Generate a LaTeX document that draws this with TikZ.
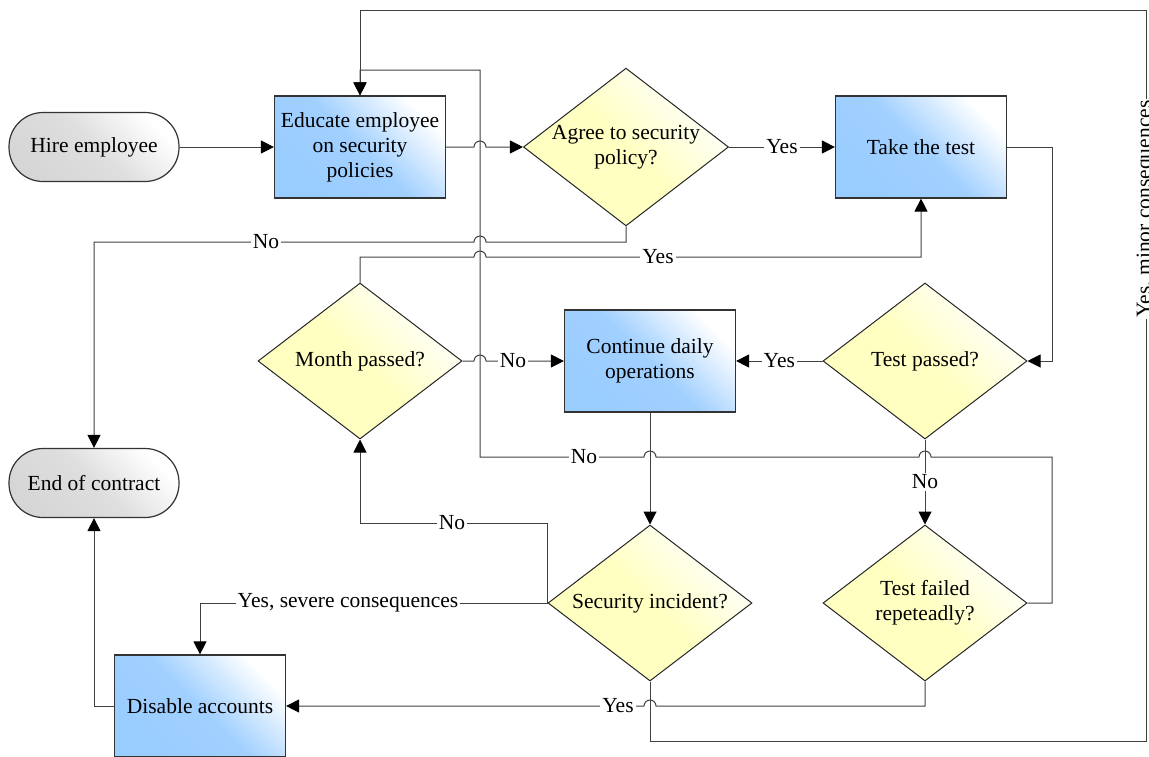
\documentclass[tikz,border=0pt]{standalone}
\usepackage{fontspec}
\setmainfont{Liberation Serif}
\usetikzlibrary{shapes.geometric,arrows.meta}

\definecolor{procblue}{HTML}{99CCFF}
\definecolor{decyellow}{HTML}{FFFFC2}
\definecolor{termgray}{HTML}{D6D6D6}
\definecolor{linegray}{HTML}{404040}

\begin{document}
\begin{tikzpicture}[x=0.5pt, y=-0.5pt,
    every node/.style={font=\fontsize{10.75}{12.5}\selectfont},
    process/.style={rectangle, draw=black!80, line width=0.6pt,
        minimum width=85.5pt, minimum height=51pt, inner sep=2pt, align=center,
        top color=white, bottom color=procblue, middle color=procblue!92!white, shading angle=-45},
    decision/.style={diamond, draw=black!85, line width=0.5pt, aspect=1.3,
        minimum width=102pt, minimum height=78pt, inner sep=0pt, align=center,
        top color=white, bottom color=decyellow, middle color=decyellow, shading angle=-45},
    terminal/.style={rectangle, rounded corners=17pt, draw=black!80, line width=0.6pt,
        minimum width=85pt, minimum height=34.5pt, align=center,
        top color=white, bottom color=termgray, middle color=termgray!80!white, shading angle=-45},
    conn/.style={draw=linegray, line width=0.5pt,
        -{Triangle[length=6.5pt, width=6.5pt, color=black]}},
    lbl/.style={fill=white, inner sep=1pt},
    jumpr/.style={insert path={arc[start angle=180, end angle=360, radius=6]}},
    jumpl/.style={insert path={arc[start angle=0, end angle=-180, radius=6]}}]

    \useasboundingbox (0,0) rectangle (1149,756);

    % shapes
    \node[terminal] (hire) at (94,147) {Hire employee};
    \node[process] (educate) at (360,147) {Educate employee\\on security\\policies};
    \node[decision] (agree) at (626,147) {Agree to security\\policy?};
    \node[process] (takeTest) at (921,147) {Take the test};
    \node[decision] (month) at (360,361) {Month passed?};
    \node[process] (daily) at (650,361) {Continue daily\\operations};
    \node[decision] (passed) at (925,361) {Test passed?};
    \node[terminal] (endContract) at (94,483) {End of contract};
    \node[decision] (incident) at (650,603) {Security incident?};
    \node[decision] (failed) at (925,603) {Test failed\\repeteadly?};
    \node[process] (disable) at (200,706) {Disable accounts};

    % connectors
    \draw[conn] (hire.east) -- (educate.west);
    \draw[conn] (educate.east) -- (474,147) [jumpr] -- (agree.west);
    \draw[conn] (agree.east) -- node[lbl] (agreeYes) {Yes} (takeTest.west);
    \draw[conn] (takeTest.east) -- (1052,147) |- (passed.east);
    \draw[conn] (passed.west) -- node[lbl] (passedYes) {Yes} (daily.east);
    \draw[conn] (passed.south) -- node[lbl] (passedNo) {No} (failed.north);
    \draw[conn] (daily.south) -- (incident.north);
    \draw[conn] (month.east) -- (474,361) [jumpr] -- (513,361) node[lbl] (monthNo) {No} -- (daily.west);
    \draw[conn] (month.north) |- (474,257) [jumpr] -- (658,257) node[lbl] (monthYes) {Yes} -| (takeTest.south);
    \draw[conn] (agree.south) |- (486,242) [jumpl] -- (266,242) node[lbl] (agreeNo) {No} -| (endContract.north);
    \draw[conn] (failed.east) -| (1052,457) -- (931,457) [jumpl] -- (656,457) [jumpl]
        -- (584,457) node[lbl] (failedNo) {No} -| (480,70) -| (educate.north);
    \draw[conn] (incident.west) |- (452,523) node[lbl] (incidentNo) {No} -| (month.south);
    \draw[conn] (incident.west) -- (348,603) node[lbl] (severeYes) {Yes, severe consequences} -| (disable.north);
    \draw[conn] (incident.south) |- (1146,741) -- (1146,209) node[lbl, rotate=90] (minorYes) {Yes, minor consequences}
        -- (1146,10) -| (educate.north);
    \draw[conn] (failed.south) |- (656,706) [jumpl] -- (618,706) node[lbl] (failedYes) {Yes} -- (disable.east);
    \draw[conn] (disable.west) -| (endContract.south);
\end{tikzpicture}
\end{document}
